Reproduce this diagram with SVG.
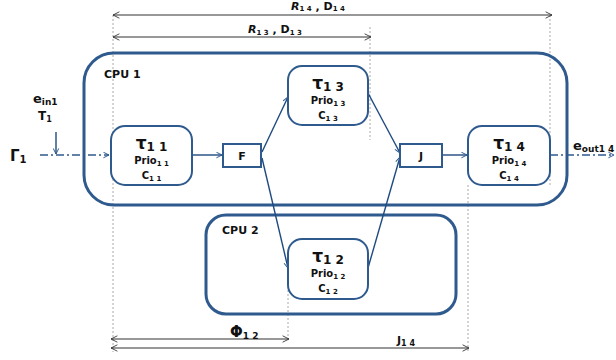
<svg xmlns="http://www.w3.org/2000/svg" width="616" height="360" viewBox="0 0 616 360">
<defs>
<marker id="ah" viewBox="0 0 10 10" refX="9" refY="5" markerWidth="7" markerHeight="7" orient="auto-start-reverse" markerUnits="userSpaceOnUse"><path d="M1,1 L9,5 L1,9" fill="none" stroke="#2F5A8E" stroke-width="1.4"/></marker>
<marker id="ak" viewBox="0 0 10 10" refX="9" refY="5" markerWidth="8" markerHeight="8" orient="auto-start-reverse" markerUnits="userSpaceOnUse"><path d="M1,1 L9,5 L1,9" fill="none" stroke="#333" stroke-width="1.1"/></marker>
<style>
text{font-family:"DejaVu Sans","Liberation Sans",sans-serif;font-weight:bold;fill:#111}
.cpu{fill:none;stroke:#2F5A8E;stroke-width:3}
.task{fill:#fff;stroke:#2F5A8E;stroke-width:2}
.gl{fill:none;stroke:#1F4A80;stroke-width:1.4}
.dd{fill:none;stroke:#2F5A8E;stroke-width:1.4;stroke-dasharray:8 3 2 3}
.vg{fill:none;stroke:#aaa;stroke-width:1;stroke-dasharray:2 2}
.dim{fill:none;stroke:#333;stroke-width:1.2}
.t{font-size:17px}
.s{font-size:10px}
.ss{font-size:7px}
</style>
</defs>
<g id="guides">
<line class="vg" x1="113" y1="15" x2="113" y2="352"/>
<line class="vg" x1="370" y1="27" x2="370" y2="140"/>
<line class="vg" x1="550" y1="15" x2="550" y2="186"/>
<line class="vg" x1="468" y1="185" x2="468" y2="352"/>
<line class="vg" x1="288" y1="290" x2="288" y2="342"/>
</g>
<g id="cpu1"><rect class="cpu" x="84" y="53" width="483" height="152" rx="30"/><text x="104" y="78" font-size="11">CPU 1</text></g>
<g id="cpu2"><rect class="cpu" x="206" y="215" width="250" height="99" rx="20"/><text x="222" y="234" font-size="11">CPU 2</text></g>
<g id="connectors">
<line class="dd" x1="40" y1="155" x2="109" y2="155" marker-end="url(#ah)"/>
<line class="gl" x1="56" y1="132" x2="56" y2="154" marker-end="url(#ah)"/>
<line class="gl" x1="192" y1="155" x2="222" y2="155" marker-end="url(#ah)"/>
<line class="gl" x1="262" y1="152" x2="288" y2="97" marker-end="url(#ah)"/>
<line class="gl" x1="262" y1="158" x2="288" y2="268" marker-end="url(#ah)"/>
<line class="gl" x1="368" y1="93" x2="400" y2="153" marker-end="url(#ah)"/>
<line class="gl" x1="368" y1="268" x2="400" y2="157" marker-end="url(#ah)"/>
<line class="gl" x1="442" y1="155" x2="467" y2="155" marker-end="url(#ah)"/>
<line class="dd" x1="550" y1="155" x2="614" y2="155" marker-end="url(#ah)"/>
<line class="dim" x1="113" y1="15" x2="552" y2="15" marker-start="url(#ak)" marker-end="url(#ak)"/>
<line class="dim" x1="113" y1="37" x2="371" y2="37" marker-start="url(#ak)" marker-end="url(#ak)"/>
<line class="dim" x1="111" y1="339" x2="289" y2="339" marker-start="url(#ak)" marker-end="url(#ak)"/>
<line class="dim" x1="111" y1="348" x2="469" y2="348" marker-start="url(#ak)" marker-end="url(#ak)"/>
</g>
<g id="labels">
<text x="291" y="10" font-size="11"><tspan font-style="italic">R</tspan><tspan class="ss" dy="1">1 4</tspan><tspan dy="-1"> , D</tspan><tspan class="ss" dy="1">1 4</tspan></text>
<text x="248" y="33" font-size="11"><tspan font-style="italic">R</tspan><tspan class="ss" dy="2">1 3</tspan><tspan dy="-2"> , D</tspan><tspan class="ss" dy="2">1 3</tspan></text>
<text x="33" y="103" font-size="13">e<tspan font-size="9" dy="2">in1</tspan></text>
<text x="38" y="120" font-size="12">T<tspan font-size="8" dy="2">1</tspan></text>
<text x="10" y="161" font-size="15">Γ<tspan font-size="10" dy="2">1</tspan></text>
<text x="573" y="150" font-size="13">e<tspan font-size="9" dy="2">out1 4</tspan></text>
<text x="230" y="337" font-size="15">Φ<tspan font-size="9" dy="2">1 2</tspan></text>
<text x="397" y="344" font-size="11">J<tspan font-size="8" dy="2">1 4</tspan></text>
</g>
<g id="tau11"><rect class="task" x="111" y="126" width="81" height="59" rx="14"/><text x="151.5" y="149" text-anchor="middle" class="t">τ<tspan font-size="12" dy="2">1 1</tspan></text><text x="151.5" y="164" text-anchor="middle" class="s">Prio<tspan class="ss" dy="2">1 1</tspan></text><text x="151.5" y="179" text-anchor="middle" class="s">C<tspan class="ss" dy="2">1 1</tspan></text></g>
<g id="F"><rect class="task" x="223" y="144" width="38" height="23"/><text x="242" y="160" text-anchor="middle" font-size="11">F</text></g>
<g id="tau13"><rect class="task" x="288" y="66" width="80" height="59" rx="14"/><text x="328" y="89" text-anchor="middle" class="t">τ<tspan font-size="12" dy="2">1 3</tspan></text><text x="328" y="104" text-anchor="middle" class="s">Prio<tspan class="ss" dy="2">1 3</tspan></text><text x="328" y="119" text-anchor="middle" class="s">C<tspan class="ss" dy="2">1 3</tspan></text></g>
<g id="J"><rect class="task" x="400" y="144" width="42" height="23"/><text x="421" y="160" text-anchor="middle" font-size="11">J</text></g>
<g id="tau14"><rect class="task" x="468" y="126" width="82" height="59" rx="14"/><text x="509" y="149" text-anchor="middle" class="t">τ<tspan font-size="12" dy="2">1 4</tspan></text><text x="509" y="164" text-anchor="middle" class="s">Prio<tspan class="ss" dy="2">1 4</tspan></text><text x="509" y="179" text-anchor="middle" class="s">C<tspan class="ss" dy="2">1 4</tspan></text></g>
<g id="tau12"><rect class="task" x="288" y="239" width="80" height="60" rx="14"/><text x="328" y="262" text-anchor="middle" class="t">τ<tspan font-size="12" dy="2">1 2</tspan></text><text x="328" y="277" text-anchor="middle" class="s">Prio<tspan class="ss" dy="2">1 2</tspan></text><text x="328" y="292" text-anchor="middle" class="s">C<tspan class="ss" dy="2">1 2</tspan></text></g>
</svg>
